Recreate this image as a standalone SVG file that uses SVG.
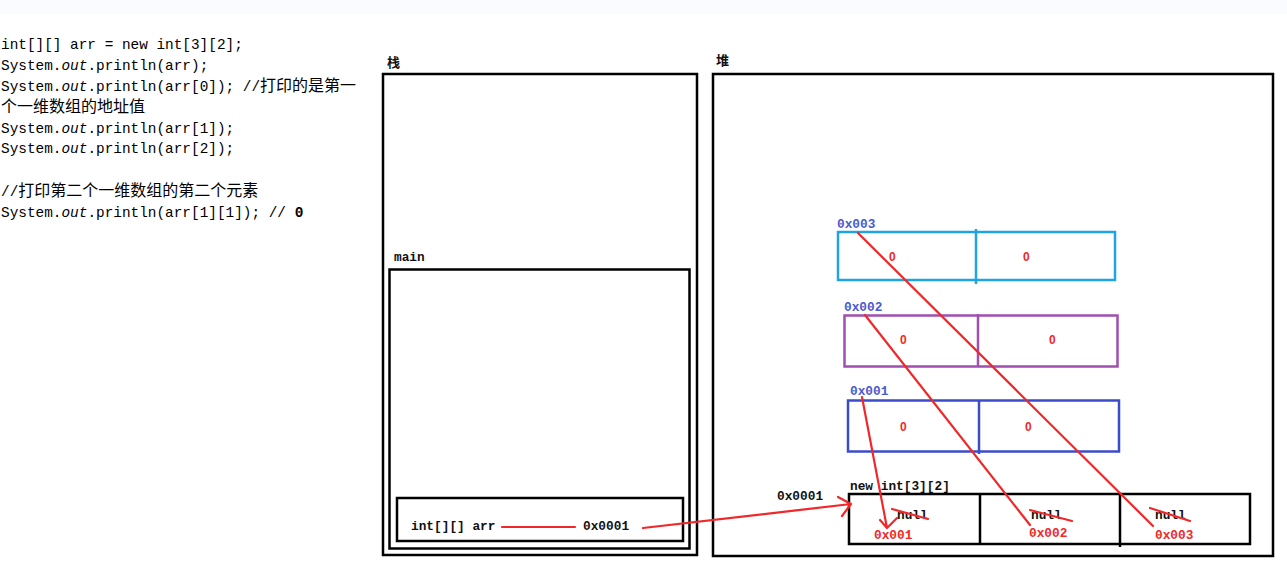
<svg xmlns="http://www.w3.org/2000/svg" width="1287" height="566" viewBox="0 0 1287 566">
<style>
.code{font-family:"Liberation Mono","Noto Sans CJK SC",monospace;font-size:14.4px;fill:#000}
.cjk{font-family:"Noto Sans CJK SC",sans-serif;font-size:16px}
.lbl{font-family:"Liberation Mono",monospace;font-size:12.8px;font-weight:bold;fill:#111}
.hd{font-family:"Noto Sans CJK SC",sans-serif;font-size:13px;font-weight:bold;fill:#111}
.box{fill:none;stroke:#000;stroke-width:2.5}
.red{font-family:"Liberation Mono",monospace;font-size:12.8px;font-weight:bold;fill:#f02828}
.addr{font-family:"Liberation Mono",monospace;font-size:12.8px;font-weight:bold;fill:#4a5ad0}
.zero{font-family:"Liberation Sans",sans-serif;font-size:12px;font-weight:bold;fill:#f02828}
.rl{stroke:#f0282a;stroke-width:2.2;fill:none;stroke-linecap:round;stroke-linejoin:round}
</style>
<rect x="0" y="0" width="1287" height="14" fill="#f9fbfe"/>
<g id="code">
<text class="code" x="1" y="49">int[][] arr = new int[3][2];</text>
<text class="code" x="1" y="70">System.<tspan font-style="italic">out</tspan>.println(arr);</text>
<text class="code" x="1" y="91">System.<tspan font-style="italic">out</tspan>.println(arr[0]); //<tspan class="cjk">打印的是第一</tspan></text>
<text class="code" x="1" y="112"><tspan class="cjk">个一维数组的地址值</tspan></text>
<text class="code" x="1" y="133">System.<tspan font-style="italic">out</tspan>.println(arr[1]);</text>
<text class="code" x="1" y="153">System.<tspan font-style="italic">out</tspan>.println(arr[2]);</text>
<text class="code" x="1" y="196">//<tspan class="cjk">打印第二个一维数组的第二个元素</tspan></text>
<text class="code" x="1" y="217">System.<tspan font-style="italic">out</tspan>.println(arr[1][1]); // <tspan font-weight="bold">0</tspan></text>
</g>
<g id="stack">
<text class="hd" x="387" y="67">栈</text>
<rect class="box" x="383" y="74" width="314" height="481"/>
</g>
<g id="main">
<text class="lbl" x="394" y="261">main</text>
<rect class="box" x="389.5" y="269.5" width="300" height="279"/>
</g>
<g id="arrvar">
<rect class="box" x="397" y="498" width="286" height="43"/>
<text class="lbl" x="411" y="530">int[][] arr</text>
<text class="lbl" x="583" y="530">0x0001</text>
</g>
<g id="heap">
<text class="hd" x="716" y="65">堆</text>
<rect class="box" x="713" y="74" width="560" height="482"/>
</g>
<g id="arr003">
<text class="addr" x="837" y="228">0x003</text>
<rect x="838" y="232" width="277" height="48" fill="none" stroke="#1ea4e2" stroke-width="2.5"/>
<line x1="976" y1="229" x2="976" y2="284" stroke="#1ea4e2" stroke-width="2.5"/>
<text class="zero" x="889" y="261">0</text>
<text class="zero" x="1023" y="261">0</text>
</g>
<g id="arr002">
<text class="addr" x="844" y="311">0x002</text>
<rect x="844.5" y="315.5" width="273" height="51" fill="none" stroke="#a04eb0" stroke-width="2.5"/>
<line x1="978" y1="314" x2="978" y2="367" stroke="#a04eb0" stroke-width="2.5"/>
<text class="zero" x="900" y="344">0</text>
<text class="zero" x="1049" y="344">0</text>
</g>
<g id="arr001">
<text class="addr" x="850" y="395">0x001</text>
<rect x="848" y="400.5" width="271" height="51" fill="none" stroke="#3b4ccb" stroke-width="2.5"/>
<line x1="979" y1="400" x2="979" y2="454" stroke="#3b4ccb" stroke-width="2.5"/>
<text class="zero" x="900" y="431">0</text>
<text class="zero" x="1025" y="431">0</text>
</g>
<g id="outer">
<text class="lbl" x="850" y="490">new int[3][2]</text>
<text class="lbl" x="777" y="500">0x0001</text>
<rect class="box" x="849" y="494" width="401" height="50"/>
<line x1="980" y1="494" x2="980" y2="544" stroke="#000" stroke-width="2.5"/>
<line x1="1120" y1="494" x2="1120" y2="547" stroke="#000" stroke-width="2.5"/>
<text class="lbl" x="897" y="519" font-weight="normal">null</text>
<text class="lbl" x="1031" y="519" font-weight="normal">null</text>
<text class="lbl" x="1155" y="519" font-weight="normal">null</text>
<text class="red" x="874" y="539">0x001</text>
<text class="red" x="1029" y="537">0x002</text>
<text class="red" x="1155" y="539">0x003</text>
</g>
<g id="connectors">
<line class="rl" x1="502" y1="527" x2="575" y2="527"/>
<path class="rl" d="M643 528 L851 504 M838 497 L851 504 L842 516"/>
<path class="rl" d="M862 397 L887 528 M880 520 L887 528 L897 518"/>
<line class="rl" x1="865" y1="315" x2="1030" y2="525"/>
<line class="rl" x1="858" y1="233" x2="1153" y2="526"/>
<line class="rl" x1="892" y1="509" x2="928" y2="519"/>
<line class="rl" x1="1030" y1="510" x2="1072" y2="521"/>
<line class="rl" x1="1150" y1="508" x2="1190" y2="521"/>
</g>
</svg>
